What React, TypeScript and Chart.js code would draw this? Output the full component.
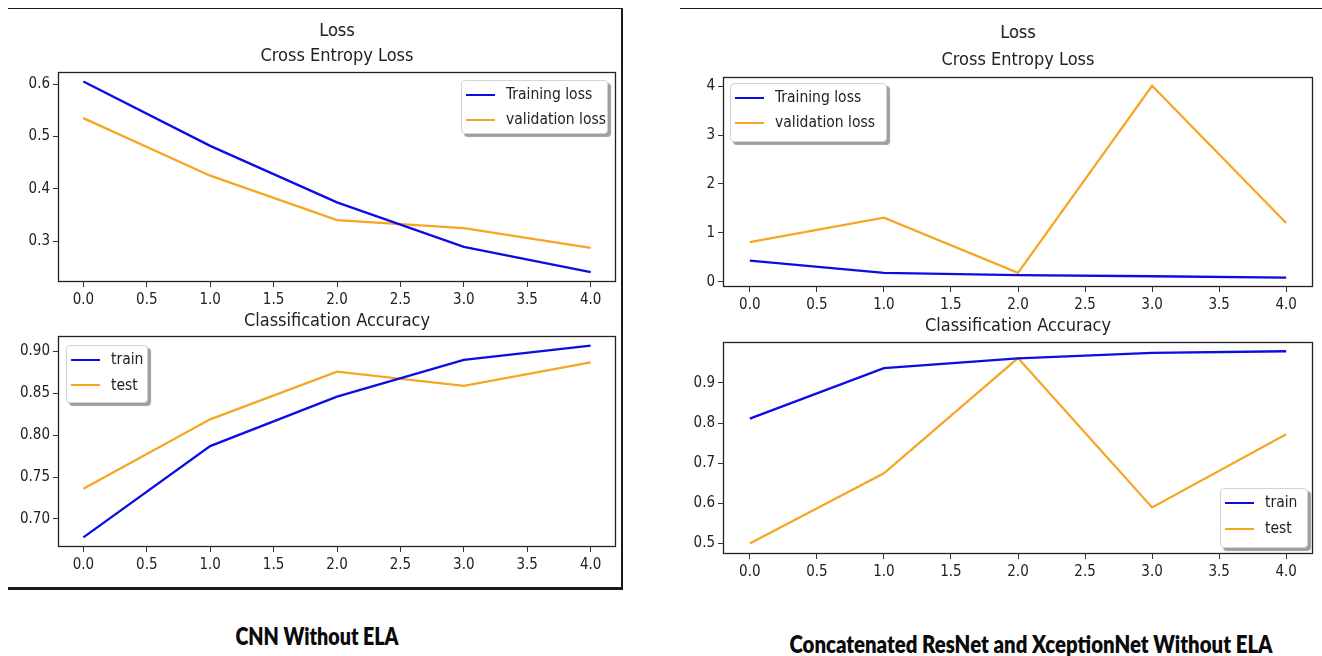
import React, { useEffect, useLayoutEffect, useRef, useState } from "react";
import { Chart, registerables } from "chart.js";

Chart.register(...registerables);

// ---------- data ----------
const EPOCHS = [0, 1, 2, 3, 4];
const X_TICKS = [0, 0.5, 1, 1.5, 2, 2.5, 3, 3.5, 4];

const CNN_TRAIN_LOSS = [0.605, 0.482, 0.374, 0.289, 0.241];
const CNN_VAL_LOSS = [0.535, 0.425, 0.34, 0.325, 0.287];
const CNN_TRAIN_ACC = [0.678, 0.787, 0.846, 0.89, 0.907];
const CNN_TEST_ACC = [0.736, 0.819, 0.876, 0.859, 0.887];

const CAT_TRAIN_LOSS = [0.43, 0.18, 0.135, 0.11, 0.08];
const CAT_VAL_LOSS = [0.81, 1.31, 0.18, 4.01, 1.2];
const CAT_TRAIN_ACC = [0.811, 0.937, 0.961, 0.975, 0.979];
const CAT_TEST_ACC = [0.5, 0.675, 0.962, 0.59, 0.772];

const CNN_LOSS_TICKS = [0.3, 0.4, 0.5, 0.6];
const CNN_ACC_TICKS = [0.7, 0.75, 0.8, 0.85, 0.9];
const CAT_LOSS_TICKS = [0, 1, 2, 3, 4];
const CAT_ACC_TICKS = [0.5, 0.6, 0.7, 0.8, 0.9];

const LOSS_LABELS = ["Training loss", "validation loss"];
const ACC_LABELS = ["train", "test"];

const TITLE_LOSS = ["Loss", "Cross Entropy Loss"];
const TITLE_ACC = "Classification Accuracy";
const CAPTION_LEFT = "CNN Without ELA";
const CAPTION_RIGHT = "Concatenated ResNet and XceptionNet Without ELA";

// ---------- styles ----------
const BLUE = "#0c0ce4";
const ORANGE = "#f6a623";
const TEXT = "#222";
const FONT = '"DejaVu Sans Condensed", "DejaVu Sans", sans-serif';
const CAPTION_FONT = 'Lato, "Open Sans", sans-serif';

const PAD_L = 56;
const PAD_T = 14;
const PAD_R = 12;
const PAD_B = 40;

type Box = { x: number; y: number; w: number; h: number };

type Spec = {
  box: Box;
  yMin: number;
  yMax: number;
  yTicks: number[];
  yDecimals: number;
  labels: string[];
  values: number[][];
};

const COLORS = [BLUE, ORANGE];

const boxPlugin = {
  id: "axesBox",
  afterDatasetsDraw(chart: any) {
    const { ctx, chartArea } = chart;
    const l = Math.round(chartArea.left) + 0.5;
    const t = Math.round(chartArea.top) + 0.5;
    const r = Math.round(chartArea.right) - 0.5;
    const b = Math.round(chartArea.bottom) - 0.5;
    ctx.save();
    ctx.strokeStyle = "#222";
    ctx.lineWidth = 1.3;
    ctx.strokeRect(l, t, r - l, b - t);
    ctx.restore();
  },
};

function LineChart({ spec }: { spec: Spec }) {
  const ref = useRef<HTMLCanvasElement | null>(null);
  useEffect(() => {
    if (!ref.current) return;
    const tickFont = { family: FONT, size: 15 };
    const chart = new Chart(ref.current, {
      type: "line",
      data: {
        datasets: spec.values.map((vals, k) => ({
          label: spec.labels[k],
          data: EPOCHS.map((x, i) => ({ x, y: vals[i] })),
          borderColor: COLORS[k],
          backgroundColor: COLORS[k],
          borderWidth: 2.3,
          pointRadius: 0,
          tension: 0,
          fill: false,
        })),
      },
      options: {
        responsive: false,
        animation: false,
        events: [],
        layout: { padding: { left: 0, top: PAD_T, right: PAD_R, bottom: 0 } },
        plugins: {
          legend: { display: false },
          title: { display: false },
          tooltip: { enabled: false },
        },
        scales: {
          x: {
            type: "linear",
            min: -0.2,
            max: 4.2,
            afterFit: (s: any) => {
              s.height = PAD_B;
            },
            afterBuildTicks: (s: any) => {
              s.ticks = X_TICKS.map((v) => ({ value: v }));
            },
            ticks: {
              callback: (v: any) => Number(v).toFixed(1),
              font: tickFont,
              color: TEXT,
              padding: 4,
              maxRotation: 0,
              autoSkip: false,
            },
            grid: {
              display: true,
              drawOnChartArea: false,
              drawTicks: true,
              tickLength: 5,
              color: "#333",
              lineWidth: 1,
            },
            border: { display: false },
          },
          y: {
            type: "linear",
            min: spec.yMin,
            max: spec.yMax,
            afterFit: (s: any) => {
              s.width = PAD_L;
            },
            afterBuildTicks: (s: any) => {
              s.ticks = spec.yTicks.map((v) => ({ value: v }));
            },
            ticks: {
              callback: (v: any) => Number(v).toFixed(spec.yDecimals),
              font: tickFont,
              color: TEXT,
              padding: 3,
              autoSkip: false,
            },
            grid: {
              display: true,
              drawOnChartArea: false,
              drawTicks: true,
              tickLength: 5,
              color: "#333",
              lineWidth: 1,
            },
            border: { display: false },
          },
        },
      },
      plugins: [boxPlugin],
    } as any);
    return () => chart.destroy();
  }, [spec]);
  const { box } = spec;
  return (
    <canvas
      ref={ref}
      width={box.w + PAD_L + PAD_R}
      height={box.h + PAD_T + PAD_B}
      style={{
        position: "absolute",
        left: box.x - PAD_L,
        top: box.y - PAD_T,
        width: box.w + PAD_L + PAD_R,
        height: box.h + PAD_T + PAD_B,
      }}
    />
  );
}

type LegendSpec = {
  x: number;
  y: number;
  w: number;
  h: number;
  rowH: number;
  pt: number;
  labels: string[];
};

function Legend({ l }: { l: LegendSpec }) {
  return (
    <div
      style={{
        position: "absolute",
        left: l.x,
        top: l.y,
        width: l.w,
        height: l.h,
        boxSizing: "border-box",
        border: "1px solid #d4d4d4",
        borderRadius: 4,
        background: "#fff",
        boxShadow: "3px 3px 1px rgba(0,0,0,0.38)",
        paddingTop: l.pt,
        paddingLeft: 4,
      }}
    >
      {l.labels.map((lab, k) => (
        <div
          key={lab}
          style={{ height: l.rowH, display: "flex", alignItems: "center" }}
        >
          <div style={{ width: 29, height: 2, background: COLORS[k] }} />
          <div
            style={{
              marginLeft: 11,
              fontFamily: FONT,
              fontSize: 15.5,
              color: TEXT,
              whiteSpace: "nowrap",
              lineHeight: 1,
            }}
          >
            {lab}
          </div>
        </div>
      ))}
    </div>
  );
}

function Text({
  cx,
  cy,
  text,
  size,
  family,
  bold,
  fitWidth,
}: {
  cx: number;
  cy: number;
  text: string;
  size: number;
  family: string;
  bold?: boolean;
  fitWidth?: number;
}) {
  const ref = useRef<HTMLDivElement | null>(null);
  const [sx, setSx] = useState(1);
  useLayoutEffect(() => {
    if (!fitWidth || !ref.current) return;
    const w = ref.current.offsetWidth;
    if (w > 0) setSx(fitWidth / w);
  }, [fitWidth, text, size, family]);
  return (
    <div
      ref={ref}
      style={{
        position: "absolute",
        left: cx,
        top: cy,
        transform: `translate(-50%, -50%) scaleX(${sx})`,
        transformOrigin: "50% 50%",
        whiteSpace: "nowrap",
        fontFamily: family,
        fontSize: size,
        fontWeight: bold ? 800 : 400,
        color: bold ? "#0a0a0a" : TEXT,
        lineHeight: 1,
      }}
    >
      {text}
    </div>
  );
}

const SPECS: Spec[] = [
  {
    box: { x: 58, y: 72, w: 558, h: 210 },
    yMin: 0.222,
    yMax: 0.623,
    yTicks: CNN_LOSS_TICKS,
    yDecimals: 1,
    labels: LOSS_LABELS,
    values: [CNN_TRAIN_LOSS, CNN_VAL_LOSS],
  },
  {
    box: { x: 58, y: 336, w: 558, h: 211 },
    yMin: 0.6665,
    yMax: 0.9185,
    yTicks: CNN_ACC_TICKS,
    yDecimals: 2,
    labels: ACC_LABELS,
    values: [CNN_TRAIN_ACC, CNN_TEST_ACC],
  },
  {
    box: { x: 723, y: 77, w: 590, h: 210 },
    yMin: -0.11,
    yMax: 4.19,
    yTicks: CAT_LOSS_TICKS,
    yDecimals: 0,
    labels: LOSS_LABELS,
    values: [CAT_TRAIN_LOSS, CAT_VAL_LOSS],
  },
  {
    box: { x: 723, y: 342, w: 590, h: 212 },
    yMin: 0.474,
    yMax: 1.002,
    yTicks: CAT_ACC_TICKS,
    yDecimals: 1,
    labels: ACC_LABELS,
    values: [CAT_TRAIN_ACC, CAT_TEST_ACC],
  },
];

const LEGENDS: LegendSpec[] = [
  { x: 461, y: 80, w: 147, h: 54, rowH: 25, pt: 1, labels: LOSS_LABELS },
  { x: 66, y: 345, w: 82, h: 58, rowH: 25.6, pt: 1, labels: ACC_LABELS },
  { x: 730, y: 83, w: 157, h: 59, rowH: 25, pt: 1.5, labels: LOSS_LABELS },
  { x: 1220, y: 488, w: 88, h: 60, rowH: 26, pt: 1, labels: ACC_LABELS },
];

function Rule({ x, y, w, h }: Box) {
  return (
    <div
      style={{
        position: "absolute",
        left: x,
        top: y,
        width: w,
        height: h,
        background: "#1a1a1a",
      }}
    />
  );
}

export default function App() {
  return (
    <div
      style={{
        position: "absolute",
        left: 0,
        top: 0,
        width: 1322,
        height: 656,
        background: "#fff",
        overflow: "hidden",
      }}
    >
      {/* panel frames */}
      <Rule x={8} y={8} w={614} h={1} />
      <Rule x={621} y={8} w={1.5} h={582} />
      <Rule x={8} y={587} w={615} h={3} />
      <Rule x={680} y={8} w={642} h={1} />

      {SPECS.map((s, i) => (
        <LineChart key={i} spec={s} />
      ))}

      {/* titles */}
      <Text cx={337} cy={30} text={TITLE_LOSS[0]} size={18} family={FONT} />
      <Text cx={337} cy={55} text={TITLE_LOSS[1]} size={18} family={FONT} />
      <Text cx={337} cy={320} text={TITLE_ACC} size={18} family={FONT} />
      <Text cx={1018} cy={32} text={TITLE_LOSS[0]} size={18} family={FONT} />
      <Text cx={1018} cy={59} text={TITLE_LOSS[1]} size={18} family={FONT} />
      <Text cx={1018} cy={325} text={TITLE_ACC} size={18} family={FONT} />

      {LEGENDS.map((l, i) => (
        <Legend key={i} l={l} />
      ))}

      {/* captions */}
      <Text
        cx={317}
        cy={636}
        text={CAPTION_LEFT}
        size={24}
        family={CAPTION_FONT}
        bold
        fitWidth={163}
      />
      <Text
        cx={1031}
        cy={644}
        text={CAPTION_RIGHT}
        size={24}
        family={CAPTION_FONT}
        bold
        fitWidth={483}
      />
    </div>
  );
}
